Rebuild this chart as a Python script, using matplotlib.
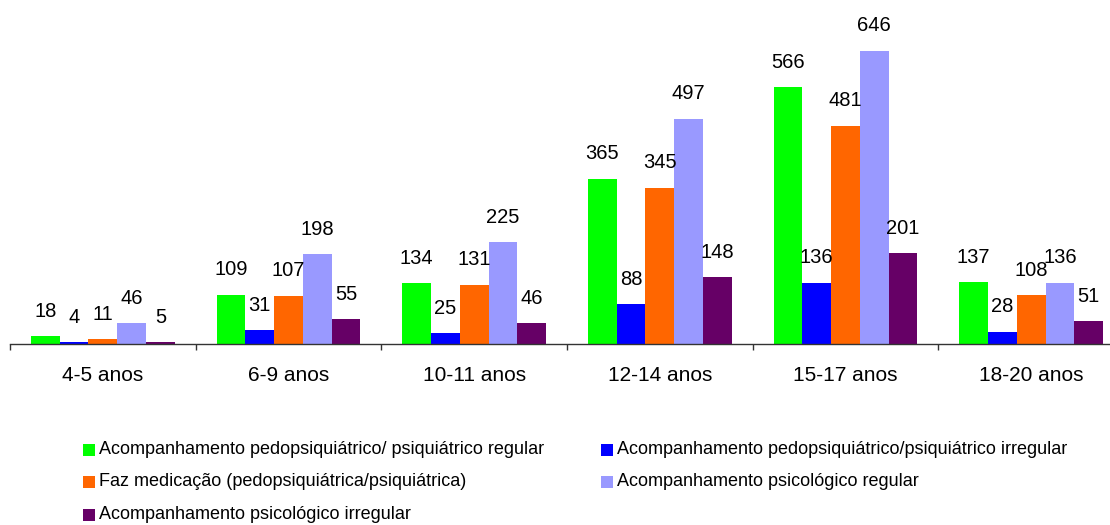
import matplotlib
matplotlib.use("Agg")
import matplotlib.pyplot as plt
from matplotlib.patches import Rectangle
from matplotlib.ticker import FixedLocator
import numpy as np

categories = ["4-5 anos", "6-9 anos", "10-11 anos", "12-14 anos", "15-17 anos", "18-20 anos"]
series_names = [
    "Acompanhamento pedopsiquiátrico/ psiquiátrico regular",
    "Acompanhamento pedopsiquiátrico/psiquiátrico irregular",
    "Faz medicação (pedopsiquiátrica/psiquiátrica)",
    "Acompanhamento psicológico regular",
    "Acompanhamento psicológico irregular",
]
psiq_regular = [18, 109, 134, 365, 566, 137]
psiq_irregular = [4, 31, 25, 88, 136, 28]
medicacao = [11, 107, 131, 345, 481, 108]
psic_regular = [46, 198, 225, 497, 646, 136]
psic_irregular = [5, 55, 46, 148, 201, 51]
series_values = [psiq_regular, psiq_irregular, medicacao, psic_regular, psic_irregular]
colors = ["#00FF00", "#0000FF", "#FF6600", "#9999FF", "#660066"]

W, H = 1110, 525
fig = plt.figure(figsize=(W / 100, H / 100), dpi=100)
ax = fig.add_axes([10 / W, (H - 344.3) / H, 1114 / W, 344.3 / H])

label_font = ["Liberation Sans", "DejaVu Sans"]
legend_font = ["Liberation Sans", "DejaVu Sans"]

x = np.arange(len(categories))
bw = 0.155
for i, (vals, col) in enumerate(zip(series_values, colors)):
    xs = x + (i - 2) * bw
    ax.bar(xs, vals, width=bw, color=col, linewidth=0, zorder=2)
    for xi, v in zip(xs, vals):
        ax.annotate(str(v), (xi, v), xytext=(0, 14), textcoords="offset points",
                    ha="center", va="baseline", fontsize=14.5, family=label_font,
                    color="black", annotation_clip=False)

ax.set_xlim(-0.5, len(categories) - 0.5)
ax.set_ylim(0, 758)

for s in ["top", "right", "left"]:
    ax.spines[s].set_visible(False)
ax.spines["bottom"].set_color("#333333")
ax.spines["bottom"].set_linewidth(1.0)
ax.set_yticks([])

ax.set_xticks(x)
ax.set_xticklabels(categories, fontsize=15, family=label_font)
ax.tick_params(axis="x", which="major", length=0, pad=15.5)
ax.xaxis.set_minor_locator(FixedLocator(np.arange(-0.5, len(categories), 1.0)))
ax.tick_params(axis="x", which="minor", length=4, width=1.0, color="#333333", direction="out")

# legend (row-wise, two columns)
col_x = [83, 601]
row_y = [449.5, 481.5, 514.5]
sq = 12
for k, (name, col) in enumerate(zip(series_names, colors)):
    r, c = divmod(k, 2)
    px, py = col_x[c], row_y[r]
    fig.patches.append(Rectangle((px / W, (H - py - sq / 2) / H), sq / W, sq / H,
                                 transform=fig.transFigure, facecolor=col, edgecolor="none"))
    fig.text((px + sq + 4) / W, (H - py) / H, name, ha="left", va="center",
             fontsize=13, family=legend_font, color="black")

fig.savefig("out.png", dpi=100)
